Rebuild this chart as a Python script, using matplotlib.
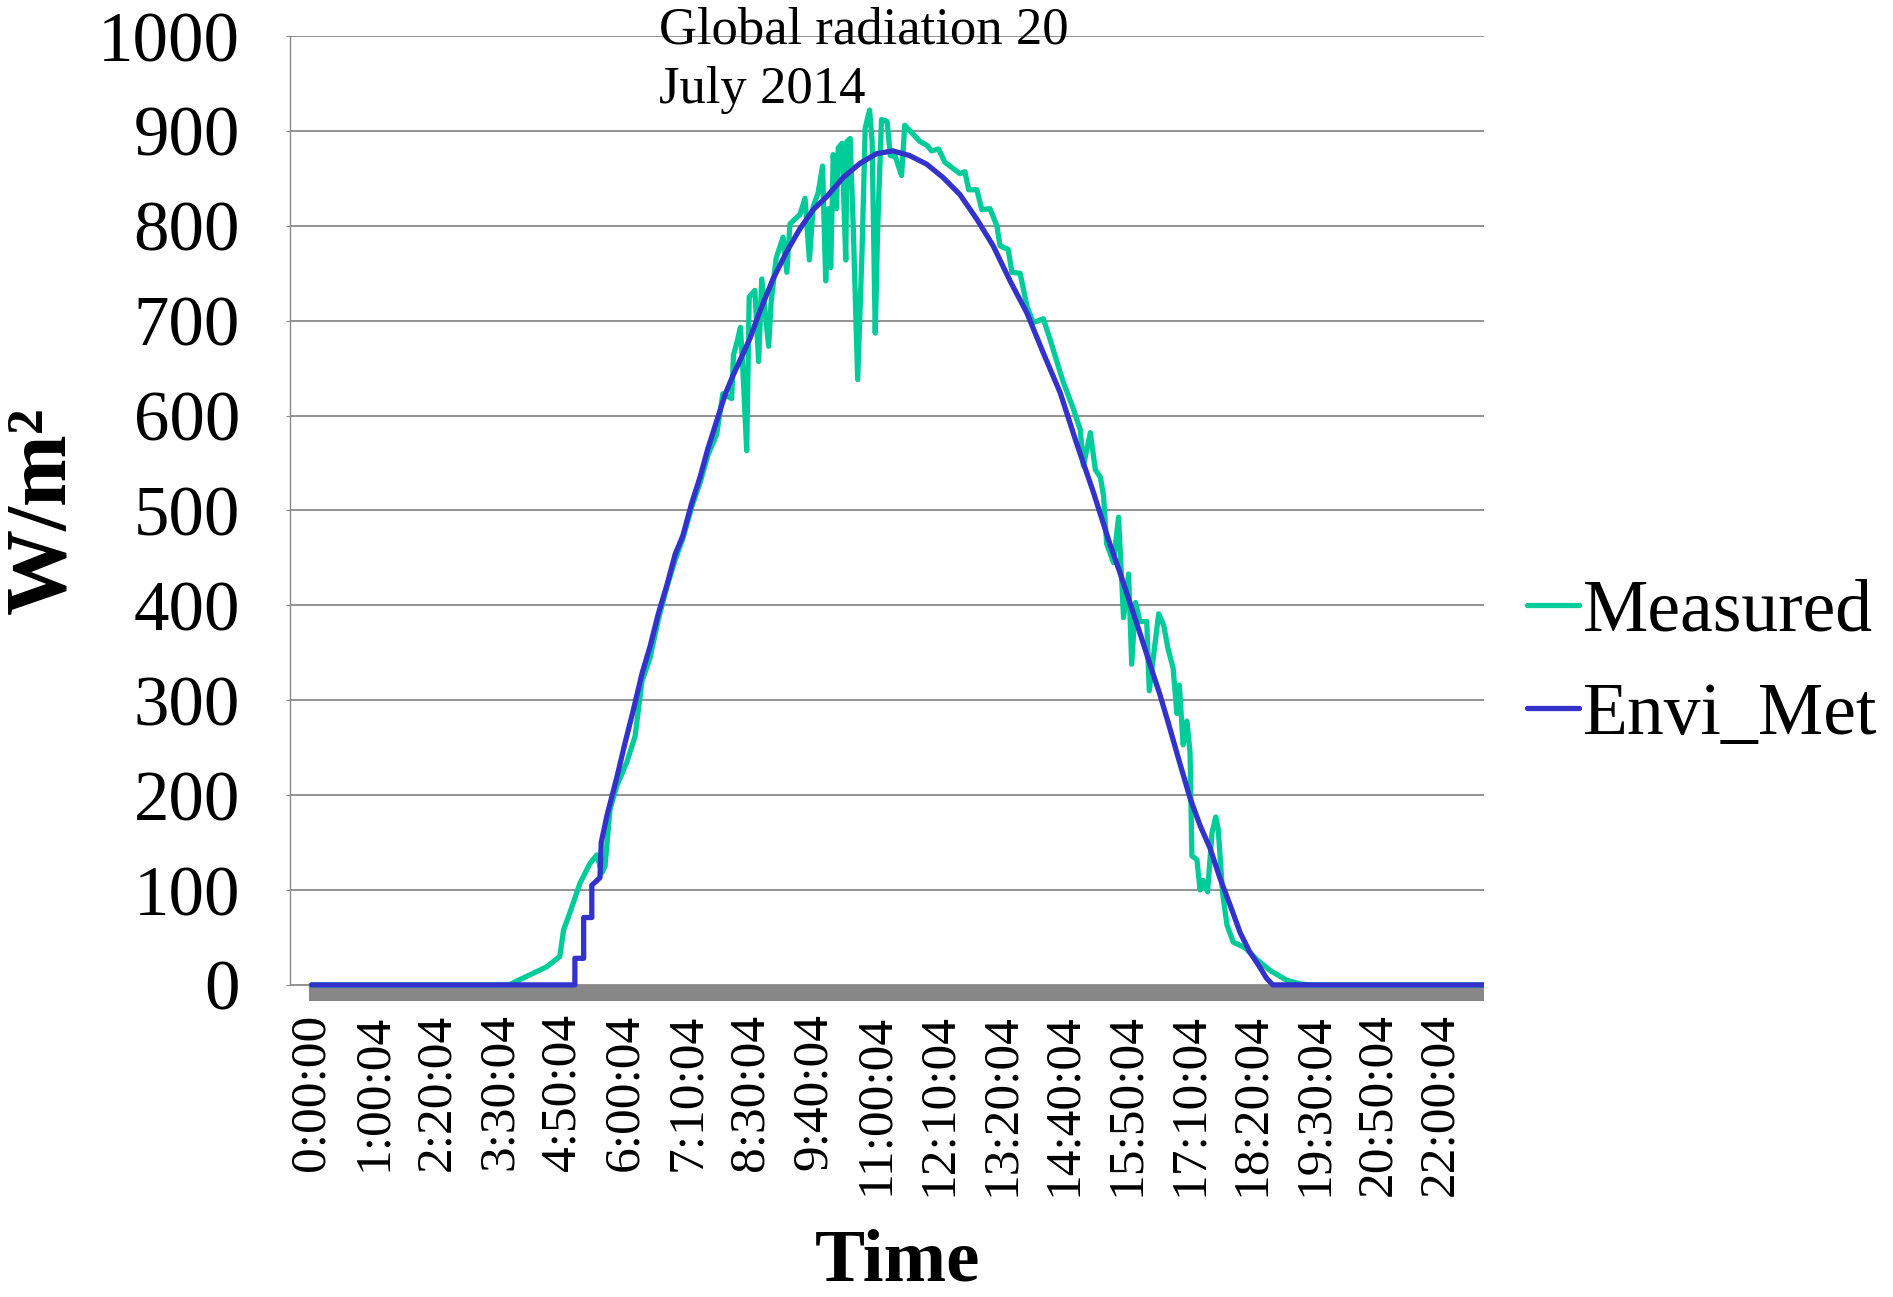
import numpy as np
import matplotlib
matplotlib.use('Agg')
import matplotlib.pyplot as plt
from matplotlib.patches import Rectangle

plt.rcParams['font.family'] = ['Liberation Serif', 'DejaVu Serif']

# x is the category position on the time axis, in units of one tick-label step
tick_labels = ['0:00:00', '1:00:04', '2:20:04', '3:30:04', '4:50:04', '6:00:04',
               '7:10:04', '8:30:04', '9:40:04', '11:00:04', '12:10:04', '13:20:04',
               '14:40:04', '15:50:04', '17:10:04', '18:20:04', '19:30:04',
               '20:50:04', '22:00:04']
x_end = 18.70

measured_x = [0.00, 3.15, 3.24, 3.43, 3.75, 3.96, 4.02, 4.12, 4.28, 4.44, 4.55, 4.63, 4.68,
              4.76, 4.87, 5.03, 5.16, 5.27, 5.40, 5.53, 5.67, 5.80, 5.92, 6.07, 6.20, 6.32,
              6.46, 6.56, 6.70, 6.73, 6.78, 6.84, 6.88, 6.94, 6.98, 7.07, 7.13, 7.18, 7.29,
              7.33, 7.41, 7.47, 7.52, 7.58, 7.63, 7.79, 7.87, 7.94, 8.00, 8.08, 8.15, 8.20,
              8.24, 8.28, 8.32, 8.37, 8.40, 8.46, 8.52, 8.54, 8.59, 8.64, 8.71, 8.78, 8.83,
              8.90, 8.94, 8.99, 9.03, 9.09, 9.18, 9.23, 9.31, 9.41, 9.46, 9.60, 9.70, 9.81,
              9.89, 10.00, 10.10, 10.24, 10.34, 10.42, 10.48, 10.61, 10.69, 10.82, 10.93,
              10.98, 11.11, 11.17, 11.30, 11.41, 11.51, 11.67, 11.78, 11.89, 11.99, 12.15,
              12.26, 12.31, 12.42, 12.50, 12.58, 12.63, 12.68, 12.79, 12.87, 12.95, 13.03,
              13.08, 13.14, 13.21, 13.32, 13.36, 13.51, 13.59, 13.66, 13.74, 13.80, 13.84,
              13.90, 13.96, 14.01, 14.04, 14.12, 14.17, 14.22, 14.29, 14.36, 14.42, 14.46,
              14.53, 14.60, 14.70, 14.89, 15.07, 15.29, 15.55, 15.77, 15.92, 18.70]
measured = [0, 0, 3, 9, 19, 30, 58, 76, 107, 128, 137, 118, 125,
            185, 210, 235, 262, 320, 345, 385, 420, 448, 470, 505, 530, 558,
            580, 623, 618, 664, 676, 693, 647, 563, 725, 732, 657, 744, 673,
            720, 766, 778, 788, 751, 802, 812, 829, 764, 820, 835, 863, 742,
            818, 756, 875, 818, 882, 887, 764, 889, 892, 797, 638, 775, 903,
            922, 889, 687, 800, 912, 910, 874, 873, 853, 906, 896, 889, 885,
            879, 881, 867, 860, 855, 857, 838, 838, 817, 818, 800,
            779, 775, 751, 750, 715, 698, 702, 680, 656, 635, 607,
            585, 547, 582, 543, 535, 516, 465, 445, 493, 387, 433,
            338, 403, 383, 383, 310, 391, 379, 354, 334, 286, 316,
            253, 278, 245, 136, 132, 100, 110, 98, 160, 177, 164,
            96, 63, 45, 39, 27, 15, 5, 1, 0, 0]

envi_x = [0.00, 4.20, 4.20, 4.34, 4.34, 4.47, 4.47, 4.60, 4.62, 4.71, 4.87, 5.00, 5.13,
          5.27, 5.40, 5.53, 5.67, 5.80, 5.92, 6.06, 6.20, 6.32, 6.46, 6.60, 6.72, 6.86,
          6.99, 7.15, 7.36, 7.58, 7.79, 8.00, 8.22, 8.48, 8.75, 9.01, 9.27, 9.54, 9.81,
          10.07, 10.34, 10.61, 10.87, 11.14, 11.41, 11.67, 11.94, 12.20, 12.47, 12.73,
          12.89, 13.05, 13.21, 13.37, 13.53, 13.69, 13.85, 14.01, 14.17, 14.33, 14.49,
          14.65, 14.81, 14.96, 15.12, 15.23, 15.33, 18.70]
envi_met = [0, 0, 28, 28, 71, 71, 105, 113, 150, 178, 219, 255, 289,
            328, 357, 391, 422, 454, 473, 507, 536, 565, 594, 623, 642, 662,
            681, 710, 744, 773, 797, 817, 831, 851, 866, 876, 879, 874, 865,
            851, 833, 807, 779, 742, 708, 666, 624, 571, 519, 465,
            435, 403, 371, 338, 306, 270, 233, 197, 168, 144, 112,
            84, 55, 35, 19, 7, 0, 0]

GREEN = '#00CC99'
BLUE = '#3333CC'
GRID = '#8a8a8a'


def plot_radiation(export_path='out.png'):
    fig = plt.figure(figsize=(18.93, 12.97), dpi=100)
    ax = fig.add_axes([0.1532, 0.2282, 0.6308, 0.7440])

    # grey chart floor under the zero line
    ax.add_patch(Rectangle((-0.04, -17), x_end + 0.04, 17, facecolor='#878787',
                           edgecolor='none', zorder=1))

    ax.plot(measured_x, measured, color=GREEN, lw=3.8, label='Measured', zorder=4,
            solid_capstyle='round', solid_joinstyle='round')
    ax.plot(envi_x, envi_met, color=BLUE, lw=3.8, label='Envi_Met', zorder=5,
            solid_capstyle='round', solid_joinstyle='round')

    ax.set_xlim(-0.343, x_end)
    ax.set_ylim(-17, 1000)
    ax.set_yticks(np.arange(0, 1001, 100))
    ax.set_xticks(np.arange(len(tick_labels)))
    ax.set_xticklabels(tick_labels, rotation=90, fontsize=37)
    ax.tick_params(axis='x', length=0, pad=9)
    ax.tick_params(axis='y', labelsize=51, length=3, color=GRID, pad=33)
    ax.yaxis.grid(True, color=GRID, lw=1.3, zorder=0)
    ax.set_axisbelow(True)

    for side in ['top', 'right', 'bottom']:
        ax.spines[side].set_visible(False)
    ax.spines['left'].set_color(GRID)
    ax.spines['left'].set_linewidth(1.0)
    ax.spines['left'].set_bounds(0, 1000)

    fig.text(659 / 1893, 1 - 7 / 1297, 'Global radiation 20\nJuly 2014', fontsize=38,
             ha='left', va='top', linespacing=1.3)
    fig.text(0.023, 0.607, 'W/m²', fontsize=62, fontweight='bold', rotation=90,
             ha='center', va='center')
    fig.text(0.4739, 0.0005, 'Time', fontsize=54, fontweight='bold', ha='center',
             va='bottom')

    fig.legend(loc='center left', bbox_to_anchor=(0.8067, 0.4876), frameon=False,
               fontsize=53, handlelength=0.7, handletextpad=0.06, labelspacing=0.48,
               borderpad=0, borderaxespad=0)

    fig.savefig(export_path, dpi=100)


if __name__ == "__main__":
    plot_radiation('out.png')
